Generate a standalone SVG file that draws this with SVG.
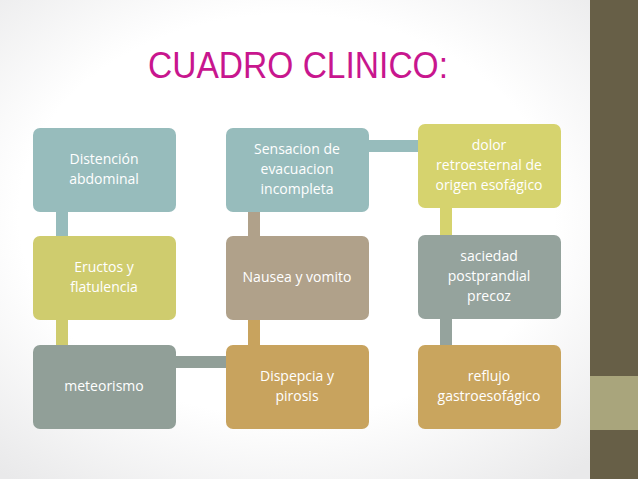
<svg xmlns="http://www.w3.org/2000/svg" width="638" height="479" viewBox="0 0 638 479">
<defs>
<style>
.t{font-family:"Open Sans","Liberation Sans",sans-serif;font-size:14px;fill:#fff;text-anchor:middle}
</style>
<radialGradient id="bg" cx="0.45" cy="0.45" r="0.7"><stop offset="0.6" stop-color="#ffffff"/><stop offset="1" stop-color="#e9e9ea"/></radialGradient>
</defs>
<rect width="638" height="479" fill="url(#bg)"/>
<rect x="590" y="0" width="48" height="479" fill="#675f47"/>
<rect x="590" y="376" width="48" height="54" fill="#a9a57c"/>
<text x="298" y="78" font-family="Liberation Sans,sans-serif" font-size="36" fill="#c8168e" text-anchor="middle" textLength="300" lengthAdjust="spacingAndGlyphs">CUADRO CLINICO:</text>
<g id="connectors">
<rect x="56" y="211" width="12" height="26" fill="#97bcbc"/>
<rect x="56" y="319" width="12" height="27" fill="#cfcc6e"/>
<rect x="175" y="356" width="52" height="12" fill="#919f98"/>
<rect x="248" y="211" width="12" height="26" fill="#b0a18a"/>
<rect x="248" y="319" width="12" height="27" fill="#c8a35e"/>
<rect x="368" y="140" width="51" height="12" fill="#97bcbc"/>
<rect x="440" y="207" width="12" height="29" fill="#d6d36e"/>
<rect x="440" y="318" width="12" height="28" fill="#95a39d"/>
</g>
<g id="n1"><rect x="33" y="128" width="143" height="84" rx="7" fill="#97bcbc"/><text class="t" x="104" y="164">Distención</text><text class="t" x="104" y="184">abdominal</text></g>
<g id="n2"><rect x="33" y="236" width="143" height="84" rx="7" fill="#cfcc6e"/><text class="t" x="104" y="272">Eructos y</text><text class="t" x="104" y="292">flatulencia</text></g>
<g id="n3"><rect x="33" y="345" width="143" height="84" rx="7" fill="#919f98"/><text class="t" x="104" y="391">meteorismo</text></g>
<g id="n4"><rect x="226" y="128" width="143" height="84" rx="7" fill="#97bcbc"/><text class="t" x="297" y="154">Sensacion de</text><text class="t" x="297" y="174">evacuacion</text><text class="t" x="297" y="194">incompleta</text></g>
<g id="n5"><rect x="226" y="236" width="143" height="84" rx="7" fill="#b0a18a"/><text class="t" x="297" y="282">Nausea y vomito</text></g>
<g id="n6"><rect x="226" y="345" width="143" height="84" rx="7" fill="#c8a35e"/><text class="t" x="297" y="381">Dispepcia y</text><text class="t" x="297" y="401">pirosis</text></g>
<g id="n7"><rect x="418" y="124" width="143" height="84" rx="7" fill="#d6d36e"/><text class="t" x="489" y="150">dolor</text><text class="t" x="489" y="170">retroesternal de</text><text class="t" x="489" y="190">origen esofágico</text></g>
<g id="n8"><rect x="418" y="235" width="143" height="84" rx="7" fill="#95a39d"/><text class="t" x="489" y="261">saciedad</text><text class="t" x="489" y="281">postprandial</text><text class="t" x="489" y="301">precoz</text></g>
<g id="n9"><rect x="418" y="345" width="143" height="84" rx="7" fill="#c9a55e"/><text class="t" x="489" y="381">reflujo</text><text class="t" x="489" y="401">gastroesofágico</text></g>
</svg>
